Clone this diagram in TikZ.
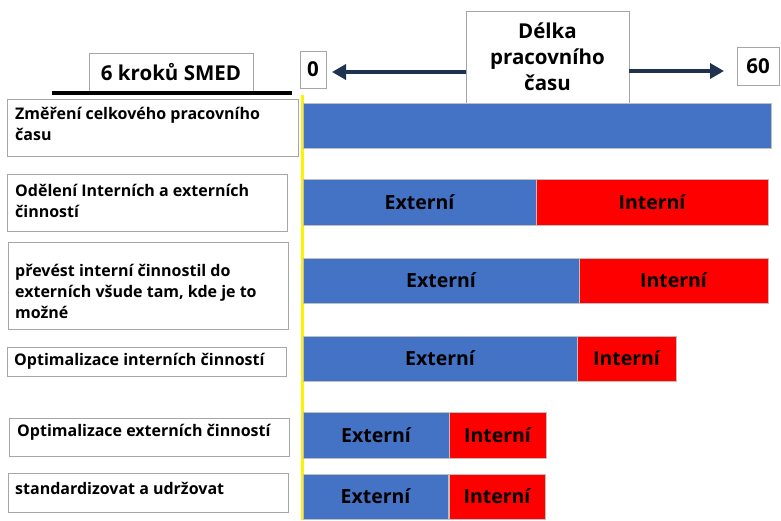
\documentclass[tikz,border=0pt]{standalone}
\usepackage{fontspec}
\setmainfont{Open Sans}
\usetikzlibrary{arrows.meta}
\definecolor{extblue}{RGB}{68,114,196}
\definecolor{intred}{RGB}{255,0,0}
\definecolor{navy}{RGB}{31,50,80}
\definecolor{boxgray}{RGB}{166,166,166}
\tikzset{
  lbox/.style={draw=boxgray, line width=0.9pt, fill=white, anchor=north west, inner sep=0pt, outer sep=0pt},
  ltext/.style={anchor=west, align=left, inner sep=0pt, font=\bfseries\fontsize{16}{21}\selectfont},
  hbox/.style={draw=boxgray, line width=0.9pt, fill=white, inner sep=0pt, outer sep=0pt, align=center, font=\bfseries\fontsize{20.5}{26}\selectfont},
  segment/.style={draw=black!25, line width=0.8pt, anchor=north west, inner sep=0pt, outer sep=0pt, font=\bfseries\fontsize{19.5}{22}\selectfont},
  ext/.style={segment, fill=extblue},
  int/.style={segment, fill=intred},
  navyarrow/.style={draw=navy, line width=4pt, -{Triangle[length=14pt,width=15pt]}},
}
\begin{document}
\begin{tikzpicture}[x=1pt, y=-1pt]
\useasboundingbox (0,0) rectangle (781,520);

% header boxes
\node[hbox, minimum width=164pt, minimum height=38pt, anchor=north west] (smed) at (89,53) {6 kroků SMED};
\node[hbox, minimum width=26pt, minimum height=37pt, anchor=north west] (zero) at (300,51) {0};
\node[hbox, minimum width=163pt, minimum height=92pt, anchor=north west] (dl) at (466,11) {Délka\\pracovního\\času};
\node[hbox, minimum width=42pt, minimum height=38pt, anchor=north west] (sixty) at (737,47) {60};

% axis arrows
\draw[navyarrow, shorten >=6pt] ([yshift=-15pt]dl.west) -- ([yshift=-15pt]dl.west -| zero.east);
\draw[navyarrow, shorten >=13pt] ([yshift=-14pt]dl.east) -- ([yshift=-14pt]dl.east -| sixty.west);

% heading rule and zero line
\coordinate (ruleL) at (52,93);
\coordinate (ruleR) at (292,93);
\draw[line width=4pt, black] (ruleL) -- (ruleR);
\coordinate (zeroTop) at (302,95);
\coordinate (zeroBot) at (302,520);
\draw[line width=3pt, yellow] (zeroTop) -- (zeroBot);

% step labels
\node[lbox, minimum width=291pt, minimum height=57pt] (b1) at (7,99) {};
\node[ltext] (t1) at (15,123.5) {Změření celkového pracovního\\času};
\node[lbox, minimum width=280pt, minimum height=57pt] (b2) at (7,174) {};
\node[ltext] (t2) at (15,200.5) {Odělení Interních a externích\\činností};
\node[lbox, minimum width=280pt, minimum height=87pt] (b3) at (8,242) {};
\node[ltext] (t3) at (15,291.5) {převést interní činnostil do\\externích všude tam, kde je to\\možné};
\node[lbox, minimum width=279pt, minimum height=29pt] (b4) at (7,347) {};
\node[ltext] (t4) at (14,361) {Optimalizace interních činností};
\node[lbox, minimum width=280pt, minimum height=38pt] (b5) at (9,418) {};
\node[ltext] (t5) at (17,432) {Optimalizace externích činností};
\node[lbox, minimum width=280pt, minimum height=39pt] (b6) at (8,473) {};
\node[ltext] (t6) at (15,488) {standardizovat a udržovat};

% time bars
\node[ext, minimum width=468pt, minimum height=45pt] (e1) at (303,103) {};

\node[ext, minimum width=233pt, minimum height=46pt] (e2) at (303,179) {Externí};
\node[int, minimum width=232pt, minimum height=46pt] (i2) at (536,179) {Interní};

\node[ext, minimum width=276pt, minimum height=45pt] (e3) at (303,258) {Externí};
\node[int, minimum width=189pt, minimum height=45pt] (i3) at (579,258) {Interní};

\node[ext, minimum width=274pt, minimum height=45pt] (e4) at (303,336) {Externí};
\node[int, minimum width=99pt, minimum height=45pt] (i4) at (577,336) {Interní};

\node[ext, minimum width=146pt, minimum height=46pt] (e5) at (303,412) {Externí};
\node[int, minimum width=97pt, minimum height=46pt] (i5) at (449,412) {Interní};

\node[ext, minimum width=145pt, minimum height=45pt] (e6) at (303,474) {Externí};
\node[int, minimum width=96pt, minimum height=45pt] (i6) at (449,474) {Interní};
\end{tikzpicture}
\end{document}
